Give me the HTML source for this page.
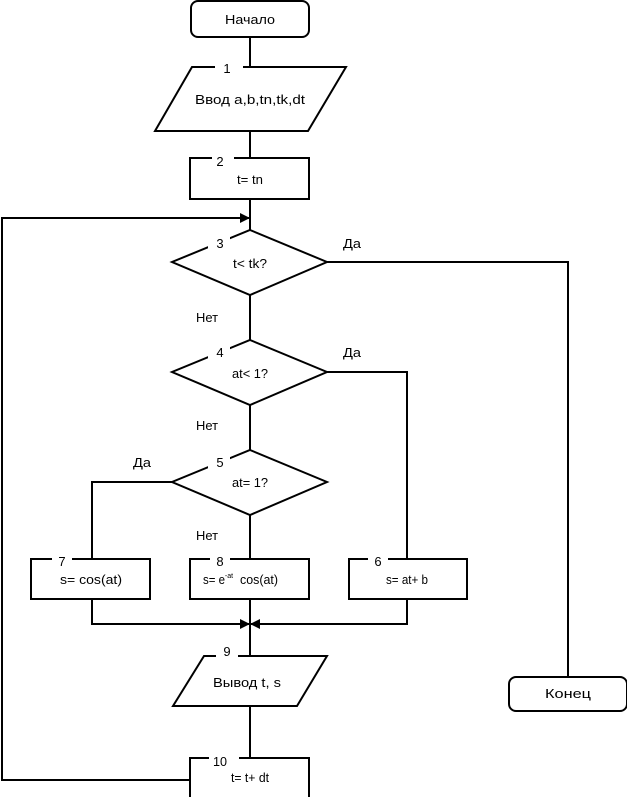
<!DOCTYPE html>
<html><head><meta charset="utf-8"><style>
html,body{margin:0;padding:0;background:#fff;}
svg{display:block}
text{font-family:"Liberation Sans Narrow","Liberation Sans",sans-serif;font-size:13px;fill:#000;text-anchor:middle}
</style></head><body>
<svg width="627" height="797" viewBox="0 0 627 797" xmlns="http://www.w3.org/2000/svg">
<defs><marker id="a" markerWidth="10" markerHeight="10" refX="9" refY="5" orient="auto" markerUnits="userSpaceOnUse"><path d="M0,0 L10,5 L0,10 z" fill="#000"/></marker></defs>
<g stroke="#000" stroke-width="2" fill="#fff">
<path d="M250 37 V67 M250 131 V158 M250 199 V230 M250 295 V340 M250 405 V450 M250 515 V559 M250 599 V656 M250 706 V758" fill="none"/>
<path d="M190 780 H2 V218 H249" fill="none" marker-end="url(#a)"/>
<path d="M327 262 H568 V677" fill="none"/>
<path d="M327 372 H407 V559" fill="none"/>
<path d="M172 482 H92 V559" fill="none"/>
<path d="M92 599 V624 H249" fill="none" marker-end="url(#a)"/>
<path d="M407 599 V624 H251" fill="none" marker-end="url(#a)"/>
<rect x="191" y="1" width="118" height="36" rx="7"/>
<polygon points="192,67 346,67 308,131 155,131"/>
<rect x="190" y="158" width="119" height="41"/>
<polygon points="250,230 327,262 250,295 172,262"/>
<polygon points="250,340 327,372 250,405 172,372"/>
<polygon points="250,450 327,482 250,515 172,482"/>
<rect x="31" y="559" width="119" height="40"/>
<rect x="190" y="559" width="119" height="40"/>
<rect x="349" y="559" width="118" height="40"/>
<polygon points="204,656 327,656 297,706 173,706"/>
<rect x="190" y="758" width="119" height="45"/>
<rect x="509" y="677" width="118" height="34" rx="7"/>
</g>
<g fill="#fff">
<rect x="215" y="63" width="28" height="14"/>
<rect x="212" y="154" width="22" height="12"/>
<rect x="208" y="234" width="22" height="16"/>
<rect x="208" y="344" width="22" height="16"/>
<rect x="208" y="454" width="22" height="16"/>
<rect x="52" y="555" width="20" height="12"/>
<rect x="210" y="555" width="20" height="12"/>
<rect x="368" y="555" width="20" height="12"/>
<rect x="216" y="652" width="22" height="10"/>
<rect x="209" y="754" width="30" height="12"/>
</g>
<g>
<text x="250" y="24" textLength="50" lengthAdjust="spacingAndGlyphs">Начало</text>
<text x="227" y="73">1</text>
<text x="250" y="104" textLength="110" lengthAdjust="spacingAndGlyphs">Ввод a,b,tn,tk,dt</text>
<text x="220" y="166">2</text>
<text x="250" y="184" textLength="26" lengthAdjust="spacingAndGlyphs">t= tn</text>
<text x="220" y="248">3</text>
<text x="250" y="268" textLength="34" lengthAdjust="spacingAndGlyphs">t&lt; tk?</text>
<text x="352" y="248" textLength="18" lengthAdjust="spacingAndGlyphs">Да</text>
<text x="207" y="322" textLength="22" lengthAdjust="spacingAndGlyphs">Нет</text>
<text x="220" y="357">4</text>
<text x="250" y="378" textLength="36" lengthAdjust="spacingAndGlyphs">at&lt; 1?</text>
<text x="352" y="357" textLength="18" lengthAdjust="spacingAndGlyphs">Да</text>
<text x="207" y="430" textLength="22" lengthAdjust="spacingAndGlyphs">Нет</text>
<text x="220" y="467">5</text>
<text x="250" y="487" textLength="36" lengthAdjust="spacingAndGlyphs">at= 1?</text>
<text x="142" y="467" textLength="18" lengthAdjust="spacingAndGlyphs">Да</text>
<text x="207" y="540" textLength="22" lengthAdjust="spacingAndGlyphs">Нет</text>
<text x="62" y="566">7</text>
<text x="220" y="566">8</text>
<text x="378" y="566">6</text>
<text x="91" y="584" textLength="62" lengthAdjust="spacingAndGlyphs">s= cos(at)</text>
<text x="214" y="584" textLength="22" lengthAdjust="spacingAndGlyphs">s= e</text>
<text x="229" y="578" style="font-size:7px">-at</text>
<text x="259" y="584" textLength="38" lengthAdjust="spacingAndGlyphs">cos(at)</text>
<text x="407" y="584" textLength="42" lengthAdjust="spacingAndGlyphs">s= at+ b</text>
<text x="227" y="656">9</text>
<text x="247" y="687" textLength="68" lengthAdjust="spacingAndGlyphs">Вывод t, s</text>
<text x="220" y="766" textLength="14" lengthAdjust="spacingAndGlyphs">10</text>
<text x="250" y="782" textLength="38" lengthAdjust="spacingAndGlyphs">t= t+ dt</text>
<text x="568" y="698" textLength="46" lengthAdjust="spacingAndGlyphs">Конец</text>
</g>
</svg>
</body></html>
